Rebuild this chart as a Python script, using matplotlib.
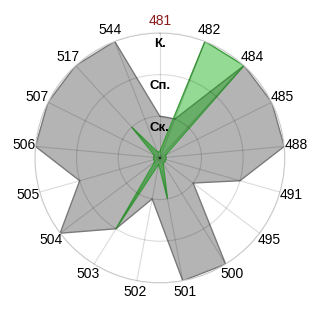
import numpy as np
import matplotlib
matplotlib.use("Agg")
import matplotlib.pyplot as plt

plt.rcParams['font.family'] = ['Liberation Sans', 'DejaVu Sans']

# categories clockwise from the top
categories = ["481", "482", "484", "485", "488", "491", "495", "500", "501",
              "502", "503", "504", "505", "506", "507", "517", "544"]
grey_vals = [1, 1, 3, 3, 3, 2, 1, 3, 3, 1, 2, 3, 2, 3, 3, 3, 3]
green_vals = [0.15, 3, 3, 0.15, 0.15, 0.15, 0.15, 0.15, 1,
              0.15, 2, 0.15, 0.15, 0.15, 0.15, 1, 0.15]
ring_vals = [1, 2, 3]
ring_labels = ["Ск.", "Сп.", "К."]

n = len(categories)
theta = np.linspace(0, 2 * np.pi, n, endpoint=False)
th = np.append(theta, theta[0])

fig = plt.figure(figsize=(3.2, 3.2), dpi=100)
ax = fig.add_axes([0.109, 0.116, 0.781, 0.781], projection='polar')
ax.set_theta_zero_location('N')
ax.set_theta_direction(-1)

ax.fill(th, np.append(grey_vals, grey_vals[0]), facecolor='#b4b4b4',
        edgecolor='#7a7a7a', linewidth=1, zorder=1)
ax.fill(th, np.append(green_vals, green_vals[0]), facecolor=(0.0, 0.66, 0.0, 0.42),
        edgecolor='#3c9e3c', linewidth=1, zorder=1.2)

ax.set_ylim(0, 3)
ax.set_yticks(ring_vals)
ax.set_yticklabels([])
ax.set_xticks(theta)
ax.set_xticklabels(categories, fontsize=10)
ax.get_xticklabels()[0].set_color('#8b1a1a')
ax.tick_params(axis='x', pad=-2)
ax.set_axisbelow(False)
ax.grid(True, color='black', alpha=0.14, linewidth=0.8)
ax.spines['polar'].set_color('#dcdcdc')
ax.spines['polar'].set_linewidth(0.9)

for r, lab in zip(ring_vals, ring_labels):
    ax.text(0, r - 0.27, lab, ha='center', va='center', fontsize=9.5,
            fontweight='bold', zorder=3)

fig.savefig("out.png", dpi=100)
